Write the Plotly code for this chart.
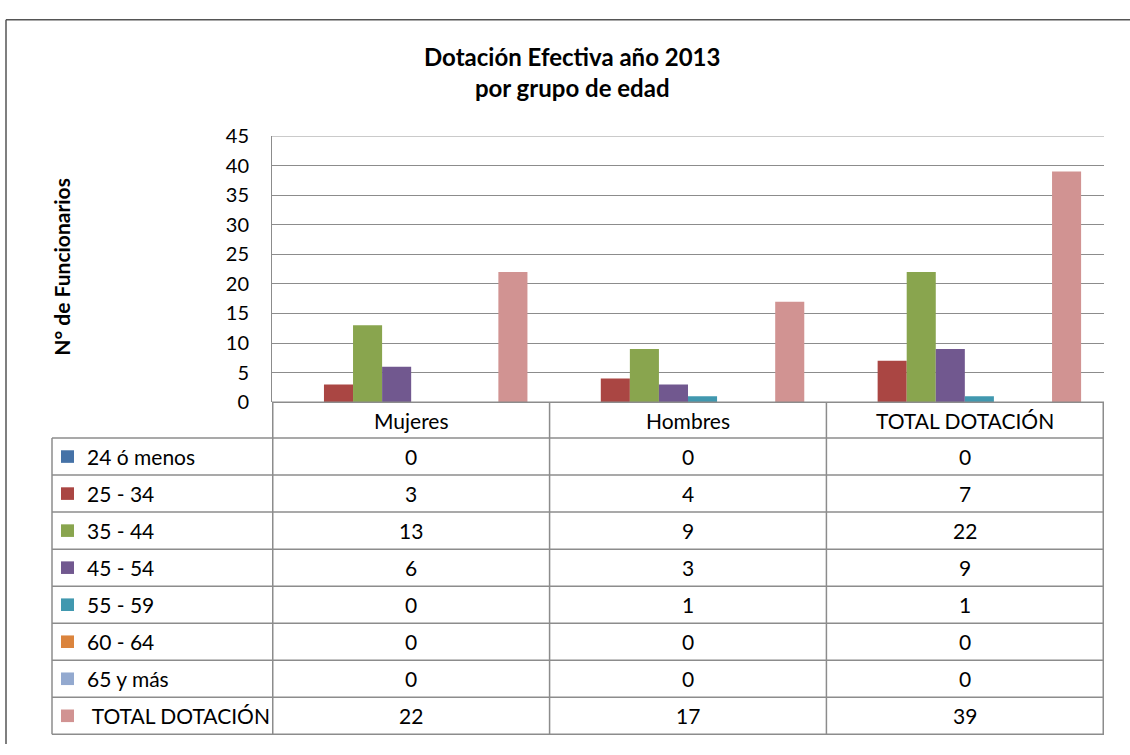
import plotly.graph_objects as go

categories = ["Mujeres", "Hombres", "TOTAL DOTACIÓN"]
series_names = ["24 ó menos", "25 - 34", "35 - 44", "45 - 54", "55 - 59", "60 - 64", "65 y más", " TOTAL DOTACIÓN"]
v_24_menos = [0, 0, 0]
v_25_34 = [3, 4, 7]
v_35_44 = [13, 9, 22]
v_45_54 = [6, 3, 9]
v_55_59 = [0, 1, 1]
v_60_64 = [0, 0, 0]
v_65_mas = [0, 0, 0]
v_total = [22, 17, 39]
series_values = [v_24_menos, v_25_34, v_35_44, v_45_54, v_55_59, v_60_64, v_65_mas, v_total]
colors = ["#4572A7", "#AA4643", "#89A54E", "#71588F", "#4198AF", "#DB843D", "#93A9CF", "#D19392"]
y_ticks = [0, 5, 10, 15, 20, 25, 30, 35, 40, 45]

W, H = 1130, 755
FONT = "Lato"
GRID = "#8c8c8c"
TXT = 21


def py(p):
    return 1 - p / H


def px(p):
    return p / W


fig = go.Figure()
for name, vals, col in zip(series_names, series_values, colors):
    fig.add_trace(go.Bar(x=categories, y=vals, name=name.strip(), marker=dict(color=col, line=dict(width=0)),
                         showlegend=False, hoverinfo="skip"))

plot_left, plot_right = 272, 1104
plot_top, plot_bottom = 127, 402
header_bottom = 439
table_left = 52
table_bottom = 745
row_h = (table_bottom - header_bottom) / len(series_names)

fig.update_layout(
    width=W, height=H, margin=dict(l=0, r=0, t=0, b=0),
    paper_bgcolor="white", plot_bgcolor="white",
    barmode="group", bargap=0.16, bargroupgap=0,
    font=dict(family=FONT, size=TXT, color="#000"),
    xaxis=dict(domain=[px(plot_left), px(plot_right)], showticklabels=False, showgrid=False,
               zeroline=False, showline=False, fixedrange=True),
    yaxis=dict(domain=[py(plot_bottom), py(plot_top)], range=[0, 45.0001], tickvals=y_ticks,
               ticktext=[str(t) for t in y_ticks], showgrid=True, gridcolor=GRID, gridwidth=1,
               zeroline=False, showline=True, linecolor=GRID, linewidth=1, ticks="", ticklabelstandoff=18,
               tickfont=dict(size=20, family=FONT), fixedrange=True),
)

shapes = []
# outer chart border (top and left edges visible in the crop)
shapes.append(dict(type="line", xref="paper", yref="paper", x0=px(6), x1=1, y0=py(7), y1=py(7),
                   line=dict(color="#555", width=1.5)))
shapes.append(dict(type="line", xref="paper", yref="paper", x0=px(6), x1=px(6), y0=0, y1=py(7),
                   line=dict(color="#555", width=1.5)))
# top gridline at the axis maximum
shapes.append(dict(type="line", xref="paper", yref="y", x0=px(plot_left), x1=px(plot_right),
                   y0=y_ticks[-1], y1=y_ticks[-1], line=dict(color=GRID, width=1)))
# data table grid
shapes.append(dict(type="line", xref="paper", yref="paper", x0=px(plot_left), x1=px(plot_right),
                   y0=py(plot_bottom), y1=py(plot_bottom), line=dict(color=GRID, width=1.5)))
for i in range(len(series_names) + 1):
    yy = header_bottom + i * row_h
    shapes.append(dict(type="line", xref="paper", yref="paper", x0=px(table_left), x1=px(plot_right),
                       y0=py(yy), y1=py(yy), line=dict(color=GRID, width=1.5)))
shapes.append(dict(type="line", xref="paper", yref="paper", x0=px(table_left), x1=px(table_left),
                   y0=py(header_bottom), y1=py(table_bottom), line=dict(color=GRID, width=1.5)))
for k in range(len(categories) + 1):
    shapes.append(dict(type="line", xref="x", yref="paper", x0=k - 0.5, x1=k - 0.5,
                       y0=py(plot_bottom), y1=py(table_bottom), line=dict(color=GRID, width=1.5)))

annotations = []
annotations.append(dict(xref="paper", yref="paper", x=px(572), y=py(61), xanchor="center", yanchor="middle",
                        text="<b>Dotación Efectiva año 2013<br>por grupo de edad</b>",
                        showarrow=False, font=dict(size=24, family=FONT), align="center"))
annotations.append(dict(xref="paper", yref="paper", x=px(62), y=py(262), xanchor="center", yanchor="middle",
                        text="<b>N° de Funcionarios</b>",
                        textangle=-90, showarrow=False, font=dict(size=21, family=FONT)))
for c in categories:
    annotations.append(dict(xref="x", yref="paper", x=c, y=py((plot_bottom + header_bottom) / 2),
                            xanchor="center", yanchor="middle", text=c,
                            showarrow=False, font=dict(size=TXT, family=FONT)))
for i, (name, vals, col) in enumerate(zip(series_names, series_values, colors)):
    yc = header_bottom + (i + 0.5) * row_h
    shapes.append(dict(type="rect", xref="paper", yref="paper", x0=px(61), x1=px(74), y0=py(yc + 6.5), y1=py(yc - 6.5),
                       fillcolor=col, line=dict(width=0)))
    label = ("&nbsp;" + name.strip()) if name.startswith(" ") else name
    annotations.append(dict(xref="paper", yref="paper", x=px(85), y=py(yc), xanchor="left", yanchor="middle",
                            text=label, showarrow=False, font=dict(size=TXT, family=FONT)))
    for c, v in zip(categories, vals):
        annotations.append(dict(xref="x", yref="paper", x=c, y=py(yc), xanchor="center", yanchor="middle",
                                text=str(v), showarrow=False, font=dict(size=TXT, family=FONT)))

fig.update_layout(shapes=shapes, annotations=annotations)
fig.write_html("out.html", config={"displayModeBar": False},
               post_script="document.body.style.margin='0px';document.body.style.overflow='hidden';")
